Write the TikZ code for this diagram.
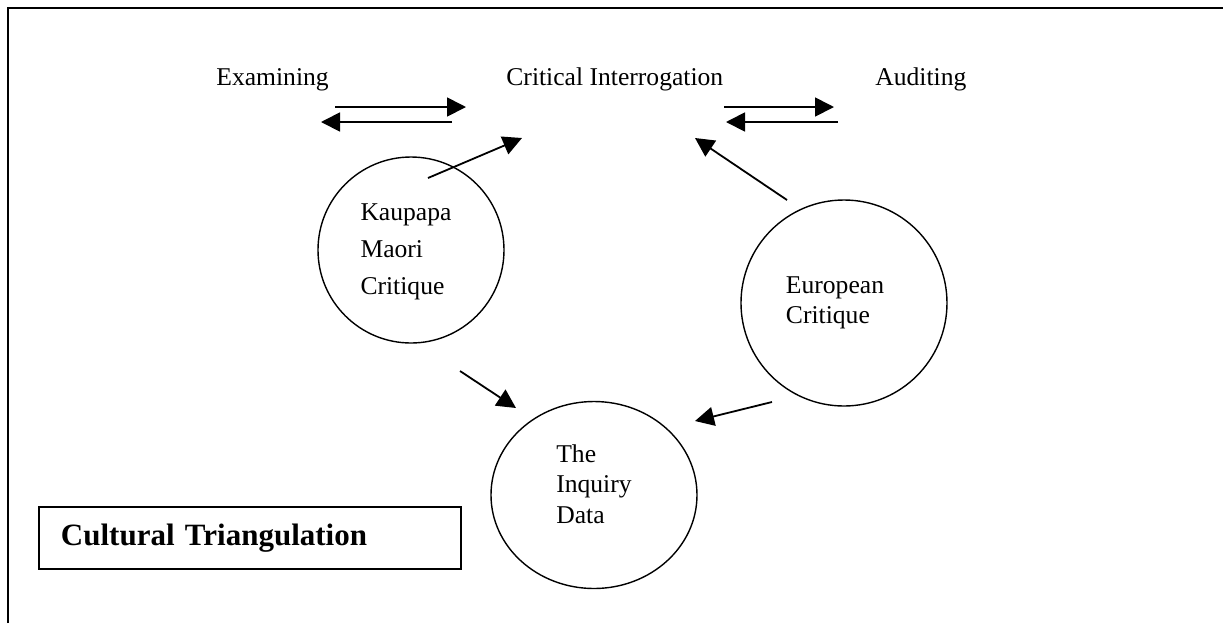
\documentclass[tikz,border=0pt]{standalone}
\usepackage{fontspec}
\setmainfont{Liberation Serif}
\usetikzlibrary{arrows.meta}
\usetikzlibrary{shapes.geometric}

\tikzset{
	lbl/.style={font=\fontsize{12.8pt}{15.3pt}\selectfont,inner sep=0pt},
	crit/.style={draw,line width=0.7pt},
	flow/.style={-{Triangle[length=9.5pt,width=9.5pt]},line width=0.9pt}
}

\begin{document}
\begin{tikzpicture}[x=0.5pt,y=-0.5pt]
			\useasboundingbox(0,0)rectangle(1223,623);
			\draw[line width=1.2pt](8,623)--(8,8)--(1223,8);
			% headings
			\node[lbl,anchor=base west](exam)at(216,85){Examining};
			\node[lbl,anchor=base west](crit)at(506,85){Critical Interrogation};
			\node[lbl,anchor=base west](audit)at(875,85){Auditing};
			% critiques and data
			\node[crit,circle,minimum size=93pt](kmc)at(411,250){};
			\node[lbl,align=left](kmctxt)at(406,252){Kaupapa\\[3.3pt]Maori\\[3pt]Critique};
			\node[crit,circle,minimum size=103pt](euc)at(844,303){};
			\node[lbl,align=left](euctxt)at(835,303){European\\Critique};
			\node[crit,ellipse,minimum width=103pt,minimum height=93.5pt](inq)at(594,495){};
			\node[lbl,align=left](inqtxt)at(594,484){The\\Inquiry\\Data};
			\node[draw,line width=0.7pt,minimum width=211pt,minimum height=31pt,text width=189pt,inner xsep=11pt,align=left,font=\fontsize{15.5pt}{18pt}\selectfont\bfseries](cult)at(250,538){Cultural Triangulation};
			% arrow ends
			\coordinate(e1)at(335,107);\coordinate(c1)at(466,107);
			\coordinate(c2)at(452,122);\coordinate(e2)at(321,122);
			\coordinate(c3)at(724,107);\coordinate(a1)at(834,107);
			\coordinate(a2)at(838,122);\coordinate(c4)at(726,122);
			\coordinate(k1)at(428,178);\coordinate(c5)at(522,138);
			\coordinate(u1)at(787,200);\coordinate(c6)at(695,138);
			\coordinate(k2)at(460,371);\coordinate(i1)at(516,408);
			\coordinate(u2)at(772,402);\coordinate(i2)at(695,421);
			\draw[flow](e1)--(c1);
			\draw[flow](c2)--(e2);
			\draw[flow](c3)--(a1);
			\draw[flow](a2)--(c4);
			\draw[flow](k1)--(c5);
			\draw[flow](u1)--(c6);
			\draw[flow](k2)--(i1);
			\draw[flow](u2)--(i2);
		\end{tikzpicture}
\end{document}
